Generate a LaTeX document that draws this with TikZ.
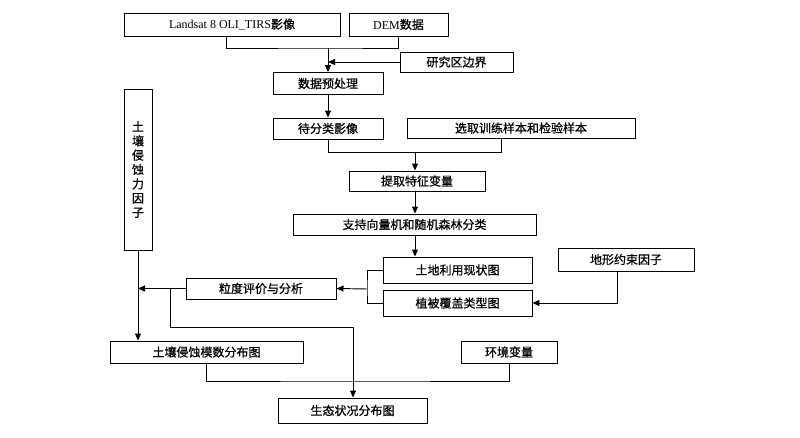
\documentclass[tikz,border=0pt]{standalone}
\usepackage{fontspec}
\setmainfont{Liberation Serif}
\newfontfamily\cjk{Noto Sans CJK SC}[FakeBold=0.8]
\usetikzlibrary{arrows.meta}
\tikzset{
  box/.style={draw, line width=0.95pt, inner sep=0pt, align=center, font=\fontsize{12}{14}\selectfont\cjk},
  ln/.style={line width=0.95pt},
  arr/.style={ln, -{Triangle[length=7pt,width=6pt]}},
}
\begin{document}
\begin{tikzpicture}[x=1pt,y=-1pt]
\useasboundingbox[fill=white] (0,0) rectangle (800,437);
% nodes
\node[box, minimum width=216pt, minimum height=23pt] (land) at (232,24.5) {\rmfamily Landsat 8 OLI\_TIRS{\cjk 影像}};
\node[box, minimum width=99pt, minimum height=23pt] (dem) at (398.5,24.5) {\rmfamily DEM{\cjk 数据}};
\node[box, minimum width=113pt, minimum height=20pt] (yjq) at (456.5,62) {研究区边界};
\node[box, minimum width=110pt, minimum height=22pt] (sjycl) at (328,83.5) {数据预处理};
\node[box, minimum width=110pt, minimum height=21pt] (dfl) at (328,128.5) {待分类影像};
\node[box, minimum width=228pt, minimum height=20pt] (xq) at (521,128) {选取训练样本和检验样本};
\node[box, minimum width=136pt, minimum height=20pt] (tq) at (417,181) {提取特征变量};
\node[box, minimum width=243pt, minimum height=21pt] (zc) at (414.5,224.5) {支持向量机和随机森林分类};
\node[box, minimum width=149pt, minimum height=26pt] (td) at (457.5,270) {土地利用现状图};
\node[box, minimum width=149pt, minimum height=26pt] (zb) at (457.5,303) {植被覆盖类型图};
\node[box, minimum width=136pt, minimum height=23pt] (dx) at (626,259.5) {地形约束因子};
\node[box, minimum width=150pt, minimum height=21pt] (ld) at (261,288.5) {粒度评价与分析};
\node[box, minimum width=28pt, minimum height=161pt, font=\fontsize{12}{14.3}\selectfont\cjk] (tr) at (138,169.5) {土\\壤\\侵\\蚀\\力\\因\\子};
\node[box, minimum width=193pt, minimum height=22pt] (tm) at (206.5,352) {土壤侵蚀模数分布图};
\node[box, minimum width=96pt, minimum height=22pt] (hj) at (509,352) {环境变量};
\node[box, minimum width=149pt, minimum height=25pt] (st) at (352.5,410.5) {生态状况分布图};
% junction points
\coordinate (m1) at (328,48);
\coordinate (m2) at (415,152);
\coordinate (br) at (367,289);
\coordinate (m3) at (353,327);
\coordinate (m4) at (353,381);
% connectors
\draw[ln] ([xshift=-6pt]land.south) |- (m1) -| (dem.south);
\draw[arr] (m1) -- (sjycl.north);
\draw[arr] (yjq.west) -- (yjq.west -| m1);
\draw[arr] (sjycl.south) -- (dfl.north);
\draw[ln] (dfl.south) |- (m2);
\draw[ln] ([xshift=-20pt]xq.south) |- (m2);
\draw[arr] (m2) -- (m2 |- tq.north);
\draw[arr] (m2 |- tq.south) -- (m2 |- zc.north);
\draw[arr] (m2 |- zc.south) -- (m2 |- td.north);
\draw[ln] (td.west) -| (br) |- (zb.west);
\draw[arr] (br) -- (ld.east);
\draw[arr] ([xshift=-9pt]dx.south) |- (zb.east);
\draw[arr] (ld.west) -- (ld.west -| tr.south);
\draw[arr] (tr.south) -- (tr.south |- tm.north);
\draw[arr] ([xshift=-15pt]ld.west) |- (m3) -- (m3 |- st.north);
\draw[ln] (tm.south) |- (m4) -| (hj.south);
\end{tikzpicture}
\end{document}
